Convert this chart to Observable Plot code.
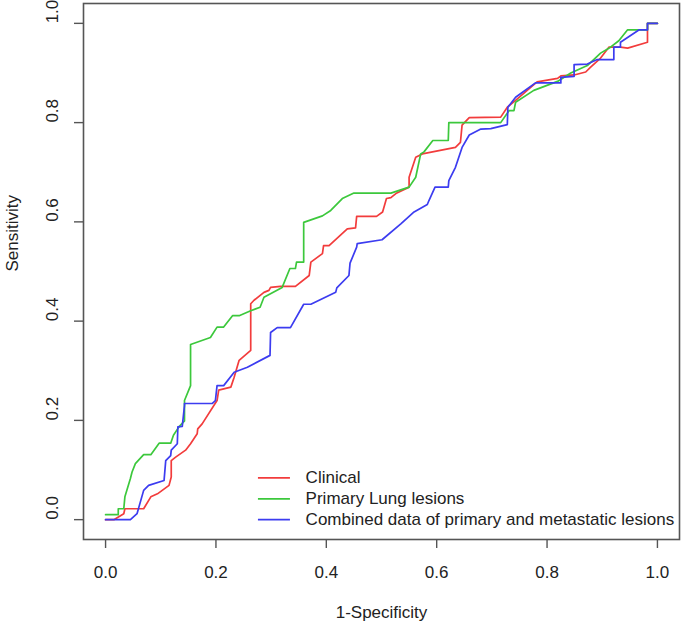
<!DOCTYPE html>
<html>
<head>
<meta charset="utf-8">
<script src="https://cdn.jsdelivr.net/npm/d3@7"></script>
<script src="https://cdn.jsdelivr.net/npm/@observablehq/plot@0.6"></script>
<style>
  html, body { margin: 0; padding: 0; background: #fff; }
  #chart { width: 685px; height: 626px; }
</style>
</head>
<body>
<div id="chart"></div>
<script>
// ---- data (1-Specificity, Sensitivity) ----
const seriesNames = ["Clinical", "Primary Lung lesions", "Combined data of primary and metastatic lesions"];
const seriesColors = ["#f23c3c", "#3cc83c", "#3c3cf0"];

const clinical = [[0,0],[0.015,0],[0.033,0.012],[0.035,0.022],[0.069,0.022],[0.082,0.046],[0.094,0.052],[0.115,0.069],[0.119,0.086],[0.119,0.119],[0.127,0.126],[0.145,0.140],[0.154,0.153],[0.166,0.173],[0.167,0.183],[0.175,0.193],[0.202,0.240],[0.205,0.261],[0.227,0.267],[0.233,0.287],[0.242,0.321],[0.263,0.341],[0.263,0.435],[0.269,0.442],[0.287,0.458],[0.296,0.462],[0.299,0.468],[0.317,0.470],[0.344,0.470],[0.369,0.492],[0.372,0.519],[0.393,0.536],[0.395,0.552],[0.405,0.552],[0.438,0.586],[0.453,0.588],[0.455,0.611],[0.491,0.611],[0.502,0.620],[0.509,0.647],[0.517,0.649],[0.526,0.657],[0.550,0.670],[0.550,0.690],[0.562,0.730],[0.574,0.737],[0.634,0.750],[0.643,0.760],[0.646,0.795],[0.659,0.810],[0.716,0.811],[0.728,0.831],[0.743,0.845],[0.764,0.865],[0.782,0.882],[0.819,0.889],[0.825,0.894],[0.849,0.896],[0.870,0.902],[0.879,0.912],[0.897,0.930],[0.912,0.952],[0.933,0.952],[0.946,0.950],[0.982,0.962],[0.982,1.0],[1,1]];

const primaryLung = [[0,0.010],[0.023,0.010],[0.023,0.022],[0.033,0.022],[0.035,0.046],[0.045,0.083],[0.048,0.096],[0.054,0.113],[0.069,0.131],[0.082,0.131],[0.097,0.154],[0.118,0.154],[0.123,0.170],[0.133,0.187],[0.143,0.199],[0.143,0.240],[0.154,0.270],[0.154,0.353],[0.190,0.367],[0.202,0.388],[0.214,0.388],[0.230,0.411],[0.242,0.411],[0.263,0.421],[0.280,0.428],[0.287,0.448],[0.320,0.468],[0.334,0.506],[0.344,0.506],[0.346,0.519],[0.359,0.519],[0.359,0.599],[0.393,0.612],[0.408,0.623],[0.429,0.647],[0.450,0.658],[0.517,0.658],[0.550,0.670],[0.562,0.690],[0.571,0.737],[0.577,0.741],[0.593,0.764],[0.621,0.764],[0.622,0.800],[0.716,0.800],[0.731,0.824],[0.740,0.824],[0.743,0.841],[0.776,0.865],[0.819,0.883],[0.843,0.900],[0.873,0.915],[0.897,0.940],[0.915,0.952],[0.930,0.965],[0.946,0.987],[0.967,0.987],[0.982,0.987],[0.982,1.0],[1,1]];

const combined = [[0,0],[0.045,0],[0.057,0.012],[0.069,0.059],[0.078,0.069],[0.106,0.079],[0.109,0.119],[0.118,0.129],[0.119,0.140],[0.130,0.153],[0.131,0.187],[0.139,0.188],[0.143,0.230],[0.143,0.234],[0.193,0.234],[0.199,0.240],[0.202,0.270],[0.214,0.270],[0.233,0.297],[0.257,0.307],[0.298,0.331],[0.299,0.377],[0.311,0.387],[0.335,0.387],[0.359,0.434],[0.372,0.434],[0.417,0.458],[0.419,0.467],[0.441,0.492],[0.443,0.517],[0.455,0.549],[0.456,0.556],[0.501,0.564],[0.535,0.596],[0.559,0.620],[0.583,0.635],[0.586,0.643],[0.597,0.670],[0.621,0.670],[0.622,0.683],[0.634,0.710],[0.646,0.750],[0.659,0.775],[0.680,0.787],[0.698,0.788],[0.728,0.796],[0.729,0.831],[0.743,0.851],[0.779,0.880],[0.825,0.880],[0.825,0.891],[0.849,0.893],[0.849,0.917],[0.873,0.918],[0.891,0.927],[0.921,0.927],[0.921,0.952],[0.933,0.952],[0.933,0.962],[0.967,0.987],[0.982,0.987],[0.982,1.0],[1,1]];

const xTicks = [0, 0.2, 0.4, 0.6, 0.8, 1.0];
const yTicks = [0, 0.2, 0.4, 0.6, 0.8, 1.0];
const xLabel = "1-Specificity";
const yLabel = "Sensitivity";

// legend placement (data space, like R's legend())
const legendLineX = [0.277, 0.335];
const legendTextX = 0.3625;
const legendTopY = 0.084;
const legendStepY = 0.042;

const allSeries = [clinical, primaryLung, combined];
const legendRows = seriesNames.map((name, i) => ({name, color: seriesColors[i], y: legendTopY - i * legendStepY}));
const fmt = d3.format(".1f");

const chart = Plot.plot({
  width: 685,
  height: 626,
  marginLeft: 83,
  marginRight: 6,
  marginTop: 3,
  marginBottom: 87,
  style: {fontFamily: "'Liberation Sans', Arial, sans-serif", fontSize: "17px", color: "#222", background: "#fff"},
  x: {domain: [-0.04, 1.04]},
  y: {domain: [-0.04, 1.04]},
  marks: [
    Plot.axisX({ticks: xTicks, tickSize: 9, tickPadding: 17, tickFormat: fmt, label: null, stroke: "#555", strokeWidth: 1.4}),
    Plot.axisY({ticks: yTicks, tickSize: 9, tickFormat: () => "", label: null, stroke: "#555", strokeWidth: 1.4}),
    Plot.text(yTicks, {y: d => d, text: d => fmt(d), frameAnchor: "left", dx: -31, rotate: -90}),
    Plot.text([xLabel], {frameAnchor: "bottom", dy: 73, lineAnchor: "middle"}),
    Plot.text([yLabel], {frameAnchor: "left", dx: -71, rotate: -90}),
    ...allSeries.map((s, i) => Plot.line(s, {x: d => d[0], y: d => d[1], stroke: seriesColors[i], strokeWidth: 1.7})),
    Plot.ruleY(legendRows, {y: "y", x1: legendLineX[0], x2: legendLineX[1], stroke: "color", strokeWidth: 1.7}),
    Plot.text(legendRows, {x: legendTextX, y: "y", text: "name", textAnchor: "start", fontSize: 17}),
    Plot.frame({stroke: "#555", strokeWidth: 1.6})
  ]
});
document.getElementById("chart").append(chart);
</script>
</body>
</html>
